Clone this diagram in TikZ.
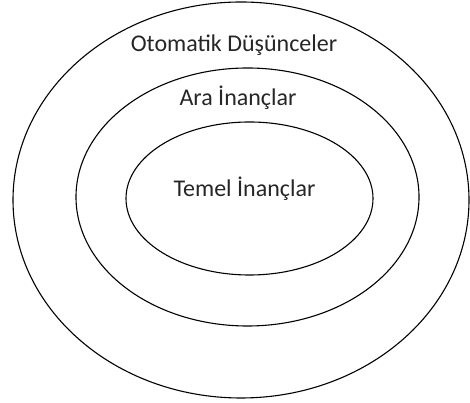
\documentclass[tikz,border=0pt]{standalone}
\usepackage{fontspec}
\setmainfont{Carlito}
\usetikzlibrary{shapes.geometric}

\begin{document}
\begin{tikzpicture}[
	  x=1pt, y=1pt,
	  layer/.style={ellipse, draw=black, line width=1.1pt, inner sep=0pt},
	  caption/.style={anchor=base, font=\fontsize{24}{28}\selectfont, text=black!85}
	]
	\useasboundingbox (0,0) rectangle (470,403);

	\node (dis) [layer, minimum width=456pt, minimum height=396pt] at (241,203) {};
	\node (ara) [layer, minimum width=343pt, minimum height=258pt] at (247.5,206) {};
	\node (temel) [layer, minimum width=247pt, minimum height=153pt] at (249.5,204.5) {};

	\node (otomatiklbl) [caption] at (234,351) {Otomatik Düşünceler};
	\node (aralbl) [caption] at (238,297) {Ara İnançlar};
	\node (temellbl) [caption] at (244.5,206) {Temel İnançlar};

\end{tikzpicture}
\end{document}
